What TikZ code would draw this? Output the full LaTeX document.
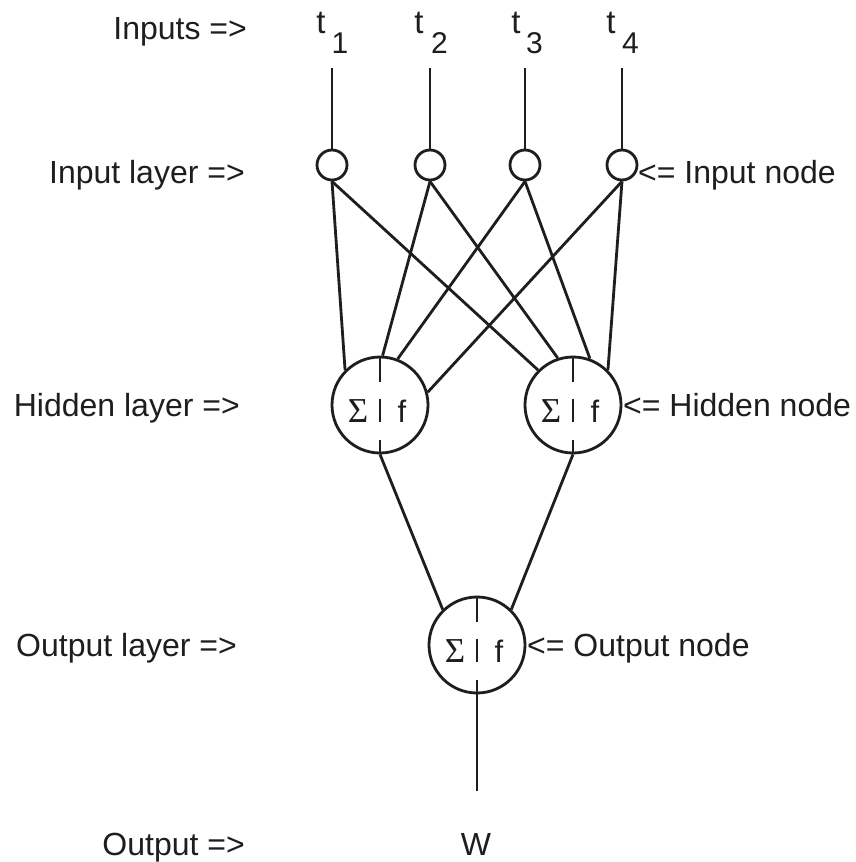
\documentclass[tikz,border=0pt]{standalone}
\usepackage{fontspec}
\setmainfont{Liberation Sans}
\newfontfamily\sigmafont{Liberation Serif}
\usetikzlibrary{calc}
\definecolor{ink}{RGB}{30,30,30}
\tikzset{
  ln/.style={draw=ink, line width=2.8pt},
  divln/.style={draw=ink, line width=2.2pt},
  innode/.style={circle, draw=ink, line width=2.8pt, minimum size=30pt, inner sep=0pt},
  sumnode/.style={circle, draw=ink, line width=2.8pt, minimum size=96pt, inner sep=0pt},
  lbl/.style={text=ink, font=\fontsize{32}{38}\selectfont, inner sep=0pt},
  ttxt/.style={text=ink, font=\fontsize{33}{38}\selectfont, inner sep=0pt, anchor=base},
  subtxt/.style={text=ink, font=\fontsize{30}{34}\selectfont, inner sep=0pt, anchor=base},
  sigtxt/.style={text=ink, font=\fontsize{35}{40}\sigmafont, inner sep=0pt, anchor=base},
  fntxt/.style={text=ink, font=\fontsize{31}{36}\selectfont, inner sep=0pt, anchor=base},
}
\begin{document}
\begin{tikzpicture}[x=1pt, y=-1pt]
\useasboundingbox (0,0) rectangle (855,862);
\fill[white] (0,0) rectangle (855,862);

% input labels t_i
\node[ttxt] (ta) at (321,33) {t};
\node[subtxt] (tan) at (340,53) {1};
\node[ttxt] (tb) at (419,33) {t};
\node[subtxt] (tbn) at (439.5,53) {2};
\node[ttxt] (tc) at (516,33) {t};
\node[subtxt] (tcn) at (534.5,53) {3};
\node[ttxt] (td) at (611,33) {t};
\node[subtxt] (tdn) at (630.5,53) {4};

% line tops
\coordinate (c1) at (332,68);
\coordinate (c2) at (430,68);
\coordinate (c3) at (525,68);
\coordinate (c4) at (622,68);

% input nodes
\node[innode] (i1) at (332,165) {};
\node[innode] (i2) at (430,165) {};
\node[innode] (i3) at (525,165) {};
\node[innode] (i4) at (622,165) {};

% hidden and output nodes
\node[sumnode] (h1) at (380,405) {};
\node[sumnode] (h2) at (573,405) {};
\node[sumnode] (o) at (477,645) {};

\coordinate (oend) at (477,791);

% vertical input lines
\draw[ln] (c1) -- (i1.north);
\draw[ln] (c2) -- (i2.north);
\draw[ln] (c3) -- (i3.north);
\draw[ln] (c4) -- (i4.north);

% input -> hidden
\draw[ln] (i1.south) -- (h1.135);
\draw[ln] (i1.south) -- (h2.135);
\draw[ln] (i2.south) -- (h1.87);
\draw[ln] (i2.south) -- (h2.108);
\draw[ln] (i3.south) -- (h1.69);
\draw[ln] (i3.south) -- (h2.70);
\draw[ln] (i4.south) -- (h1.15);
\draw[ln] (i4.south) -- (h2.45);

% hidden -> output
\draw[ln] (h1.south) -- (o.134);
\draw[ln] (h2.south) -- (o.46);

% output line
\draw[ln] (o.south) -- (oend);

% dividers and symbols
\foreach \n in {h1,h2,o} {
  \draw[divln] ($(\n)+(0,-48)$) -- ($(\n)+(0,-23)$);
  \draw[divln] ($(\n)+(0,-6)$) -- ($(\n)+(0,17)$);
  \draw[divln] ($(\n)+(0,35)$) -- ($(\n)+(0,48)$);
  \node[sigtxt] (\n s) at ($(\n)+(-22,17)$) {Σ};
  \node[fntxt] (\n f) at ($(\n)+(22,17)$) {f};
}

% left labels
\node[lbl, anchor=base east] (l1) at (247,39) {Inputs =>};
\node[lbl, anchor=base east] (l2) at (245,183) {Input layer =>};
\node[lbl, anchor=base east] (l3) at (240,416) {Hidden layer =>};
\node[lbl, anchor=base east] (l4) at (237,656) {Output layer =>};
\node[lbl, anchor=base east] (l5) at (245,855) {Output =>};

% right labels
\node[lbl, anchor=base west] (r1) at (638,183) {<= Input node};
\node[lbl, anchor=base west] (r2) at (623,416) {<= Hidden node};
\node[lbl, anchor=base west] (r3) at (527,656) {<= Output node};

% output W
\node[lbl, anchor=base] (w) at (476,855) {W};
\end{tikzpicture}
\end{document}
